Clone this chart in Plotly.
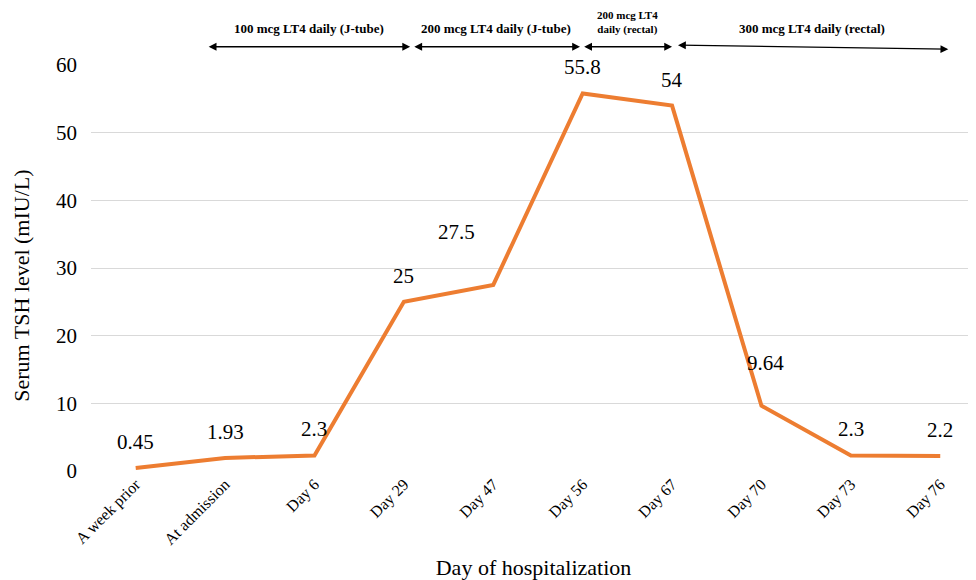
import plotly.graph_objects as go

categories = ["A week prior", "At admission", "Day 6", "Day 29", "Day 47",
              "Day 56", "Day 67", "Day 70", "Day 73", "Day 76"]
tsh_values = [0.45, 1.93, 2.3, 25, 27.5, 55.8, 54, 9.64, 2.3, 2.2]
label_texts = ["0.45", "1.93", "2.3", "25", "27.5", "55.8", "54", "9.64", "2.3", "2.2"]

# treatment periods: (start, end, label)
period_labels = ["100 mcg LT4 daily (J-tube)", "200 mcg LT4 daily (J-tube)",
                 "200 mcg LT4<br>daily (rectal)", "300 mcg LT4 daily (rectal)"]
period_starts = [0.80, 3.10, 5.00, 6.05]
period_ends = [3.07, 4.97, 6.00, 9.09]

FONT = "Liberation Serif"
ORANGE = "#ED7D31"

x_idx = list(range(len(categories)))

fig = go.Figure()
fig.add_trace(go.Scatter(
    x=x_idx, y=tsh_values, mode="lines",
    line=dict(color=ORANGE, width=4), hoverinfo="skip", showlegend=False))

# data labels
shifts = {4: (-37, 53), 7: (4, 43)}
for i, (v, t) in enumerate(zip(tsh_values, label_texts)):
    xs, ys = shifts.get(i, (0, 26))
    fig.add_annotation(x=i, y=v, text=t, showarrow=False, xshift=xs, yshift=ys,
                       font=dict(family=FONT, size=21, color="#000"))

# period arrows + labels
for k, (s, e, lab) in enumerate(zip(period_starts, period_ends, period_labels)):
    y_end = 1.045 if k < 3 else 1.039
    y_start = 1.045 if k < 3 else 1.049
    fig.add_annotation(x=e, y=y_end, ax=s, ay=y_start,
                       xref="x", yref="y domain", axref="x", ayref="y domain",
                       showarrow=True, arrowhead=2, arrowsize=1.2, arrowwidth=1.3,
                       arrowcolor="#000", startarrowhead=2, startarrowsize=1.2,
                       arrowside="end+start", text="")
    mid = (s + e) / 2
    fsize = 11 if k == 2 else 13
    fig.add_annotation(x=mid, y=1.066, xref="x", yref="y domain", text="<b>" + lab + "</b>",
                       showarrow=False, yanchor="bottom",
                       font=dict(family=FONT, size=fsize, color="#000"))

# y-axis title
fig.add_annotation(x=-0.078, y=0.456, xref="x domain", yref="y domain",
                   xanchor="center", yanchor="middle",
                   text="Serum TSH level (mIU/L)", textangle=-90, showarrow=False,
                   font=dict(family=FONT, size=22, color="#000"))

fig.update_layout(
    width=968, height=572,
    margin=dict(l=83, r=0, t=57, b=109, autoexpand=False),
    paper_bgcolor="white", plot_bgcolor="white",
    font=dict(family=FONT, color="#000"),
    xaxis=dict(
        tickmode="array", tickvals=x_idx, ticktext=categories, tickangle=-45,
        range=[-0.5, 9.4], showgrid=False, zeroline=False, showline=False,
        automargin=False,
        tickfont=dict(family=FONT, size=16, color="#000"),
        title=dict(text="Day of hospitalization", font=dict(family=FONT, size=22), standoff=26),
    ),
    yaxis=dict(
        range=[0, 60], dtick=10, showgrid=True, gridcolor="#D9D9D9", gridwidth=1,
        zeroline=False, showline=False, automargin=False, ticklabelstandoff=13,
        tickfont=dict(family=FONT, size=21, color="#000"), ticks="",
    ),
)

fig.write_html("out.html")
